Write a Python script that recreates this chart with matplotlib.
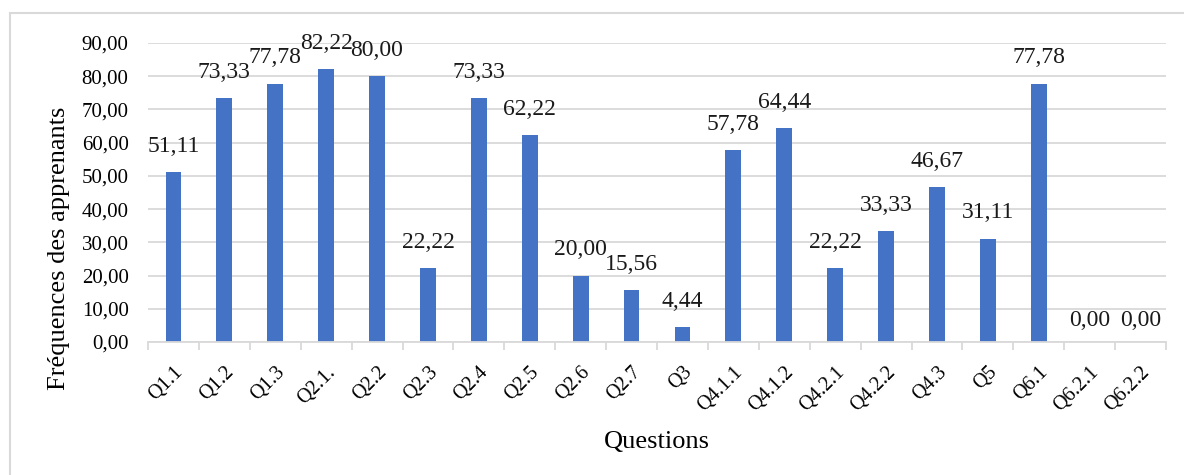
import matplotlib
matplotlib.use("Agg")
import matplotlib.pyplot as plt
from matplotlib.ticker import FuncFormatter, MultipleLocator, FixedLocator
from matplotlib.patches import Rectangle
import numpy as np

questions = ["Q1.1", "Q1.2", "Q1.3", "Q2.1.", "Q2.2", "Q2.3", "Q2.4", "Q2.5", "Q2.6", "Q2.7",
             "Q3", "Q4.1.1", "Q4.1.2", "Q4.2.1", "Q4.2.2", "Q4.3", "Q5", "Q6.1", "Q6.2.1", "Q6.2.2"]
frequences = [51.11, 73.33, 77.78, 82.22, 80.00, 22.22, 73.33, 62.22, 20.00, 15.56,
              4.44, 57.78, 64.44, 22.22, 33.33, 46.67, 31.11, 77.78, 0.00, 0.00]

plt.rcParams["font.family"] = ["Liberation Serif", "DejaVu Serif"]

fig = plt.figure(figsize=(11.84, 4.75), dpi=100)
fig.patch.set_facecolor("white")
fig.patches.append(Rectangle((9.5 / 1184, -0.1), 1.2, (475 - 13) / 475 + 0.1,
                             transform=fig.transFigure, fill=False,
                             edgecolor="#D9D9D9", linewidth=1.5, zorder=0))

ax = fig.add_axes([148 / 1184, (475 - 342) / 475, (1166 - 148) / 1184, (342 - 43) / 475])
x = np.arange(len(questions))
bars = ax.bar(x, frequences, width=0.31, color="#4472C4", zorder=3)

def fr(v):
    return f"{v:.2f}".replace(".", ",")

for xi, v in zip(x, frequences):
    ax.annotate(fr(v), (xi, v), xytext=(0, 11 if v > 0 else 8), textcoords="offset points",
                ha="center", va="bottom", fontsize=17, color="#1a1a1a")

ax.set_xlim(-0.5, len(questions) - 0.5)
ax.set_ylim(0, 90)
ax.yaxis.set_major_locator(MultipleLocator(10))
ax.yaxis.set_major_formatter(FuncFormatter(lambda v, p: fr(v)))
ax.grid(axis="y", color="#D9D9D9", linewidth=1.3, zorder=0)
ax.set_axisbelow(True)

for s in ["top", "right", "left"]:
    ax.spines[s].set_visible(False)
ax.spines["bottom"].set_color("#D9D9D9")
ax.spines["bottom"].set_linewidth(1.3)
ax.spines["bottom"].set_zorder(4)

ax.set_xticks(x)
ax.set_xticklabels(questions, rotation=45, ha="right", rotation_mode="anchor", fontsize=14.5)
ax.tick_params(axis="x", which="major", length=0, pad=15)
ax.xaxis.set_minor_locator(FixedLocator(np.arange(-0.5, len(questions), 1.0)))
ax.tick_params(axis="x", which="minor", length=6, color="#D9D9D9", width=1.3)
ax.tick_params(axis="y", length=0, labelsize=15, pad=14)

ax.set_xlabel("Questions", fontsize=19, labelpad=11)
ax.set_ylabel("Fréquences des apprenants", fontsize=19)
ax.yaxis.set_label_coords(-0.0766, 0.313)

fig.savefig("out.png", dpi=100)
